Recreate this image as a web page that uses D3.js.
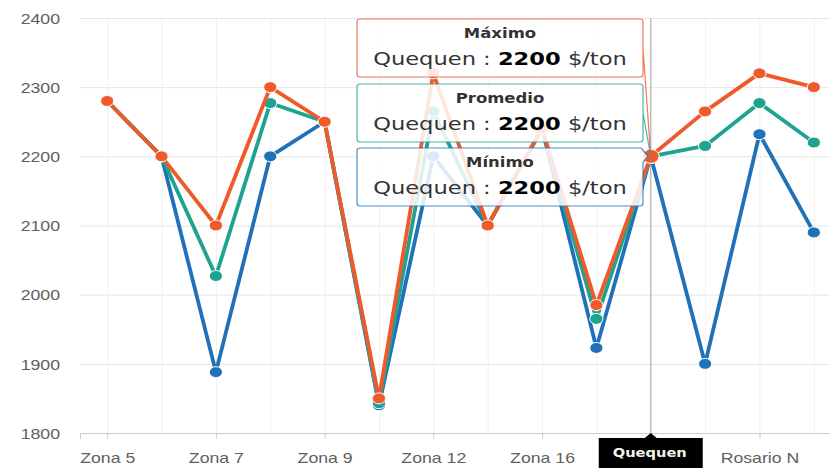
<!DOCTYPE html>
<html>
<head>
<meta charset="utf-8">
<script src="https://cdnjs.cloudflare.com/ajax/libs/d3/7.8.5/d3.min.js"></script>
<style>
	body { margin: 0; background: #fff; }
	svg { display: block; font-family: "DejaVu Sans", Verdana, sans-serif; }
</style>
</head>
<body>
<div id="chart"></div>
<script>
// Data
var categories = ["Zona 5", "Zona 6", "Zona 7", "Zona 8", "Zona 9", "Zona 10", "Zona 12",
		"Zona 14", "Zona 16", "Zona 17", "Quequen", "Bahía Blanca", "Rosario N", "Rosario S"];
var maximo   = [2280, 2200, 2100, 2300, 2250, 1850, 2320, 2100, 2240, 1985, 2200, 2265, 2320, 2300];
var promedio = [2280, 2200, 2027, 2277, 2250, 1843, 2265, 2100, 2240, 1965, 2200, 2215, 2277, 2220];
var minimo   = [2280, 2200, 1888, 2200, 2250, 1840, 2200, 2100, 2240, 1923, 2200, 1900, 2232, 2090];
var yTicks = [1800, 1900, 2000, 2100, 2200, 2300, 2400];
var shownLabels = ["Zona 5", "Zona 7", "Zona 9", "Zona 12", "Zona 16", "Quequen", "Rosario N"];
var hovered = "Quequen";
var unit = "$/ton";

var series = [
	{name: "Mínimo", values: minimo, color: "#1f72b8"},
	{name: "Promedio", values: promedio, color: "#1fa391"},
	{name: "Máximo", values: maximo, color: "#f0592a"}
];

var width = 830, height = 468,
		plot = {left: 80, right: 841, top: 18, bottom: 433},
		stretchK = 1.22; // the reference is drawn a bit wider than tall

var x = d3.scalePoint().domain(categories).range([plot.left, plot.right]).padding(0.5);
var y = d3.scaleLinear().domain([1800, 2400]).range([plot.bottom, plot.top]);

var svg = d3.select("#chart").append("svg")
		.attr("width", width)
		.attr("height", height);

// stretch text horizontally
function stretch(sel) {
	sel.each(function() {
		var w = this.getComputedTextLength();
		d3.select(this).attr("textLength", w * stretchK).attr("lengthAdjust", "spacingAndGlyphs");
	});
}

// Vertical grid
var vgrid = svg.append("g")
		.attr("transform", "translate(0," + plot.bottom + ")")
		.call(d3.axisBottom(x).tickSize(-(plot.bottom - plot.top)).tickFormat(""));
vgrid.select(".domain").remove();
vgrid.selectAll("line").attr("stroke", "#f0f0f0");

// Horizontal grid + y labels
var yAxis = svg.append("g")
		.attr("transform", "translate(" + plot.left + ",0)")
		.call(d3.axisLeft(y).tickValues(yTicks).tickSize(-(width - plot.left)).tickPadding(20).tickFormat(d3.format("d")));
yAxis.select(".domain").remove();
yAxis.selectAll("line").attr("stroke", "#e6e6e6");
yAxis.selectAll("text")
		.attr("fill", "#606060")
		.style("font-size", "14.5px")
		.attr("dy", "0.36em")
		.call(stretch);

// X axis (the hovered category shows its label in the black box instead)
var xAxis = svg.append("g")
		.attr("transform", "translate(0," + plot.bottom + ")")
		.call(d3.axisBottom(x).tickValues(shownLabels).tickSize(6));
xAxis.select(".domain").attr("stroke", "#ccc");
xAxis.selectAll("line").attr("stroke", "#ccc");
xAxis.selectAll("text")
		.attr("fill", "#606060")
		.attr("y", 30)
		.attr("dy", 0)
		.style("font-size", "14.5px")
		.call(stretch);
xAxis.selectAll(".tick").filter(function(d) { return d === hovered; }).select("text").remove();

// Crosshair
svg.append("line")
		.attr("x1", x(hovered)).attr("x2", x(hovered))
		.attr("y1", plot.top).attr("y2", plot.bottom)
		.attr("stroke", "#a8a8a8")
		.attr("stroke-width", 1);

// Series
var line = d3.line()
		.x(function(d, i) { return x(categories[i]); })
		.y(function(d) { return y(d); });

var layer = svg.selectAll(".layer")
		.data(series)
	.enter().append("g")
		.attr("class", "layer");

layer.append("path")
		.attr("d", function(d) { return line(d.values); })
		.attr("fill", "none")
		.attr("stroke", function(d) { return d.color; })
		.attr("stroke-width", 3.8)
		.attr("stroke-linejoin", "round");

layer.selectAll("ellipse")
		.data(function(d) { return d.values.map(function(v, i) { return {v: v, c: categories[i], color: d.color}; }); })
	.enter().append("ellipse")
		.attr("cx", function(d) { return x(d.c); })
		.attr("cy", function(d) { return y(d.v); })
		.attr("rx", function(d) { return d.c === hovered ? 8.4 : 6.6; })
		.attr("ry", function(d) { return d.c === hovered ? 7 : 5.5; })
		.attr("fill", function(d) { return d.color; })
		.attr("stroke", "#fff")
		.attr("stroke-width", 1);

// Tooltips
var hi = categories.indexOf(hovered);
var ax = x(hovered), ay = y(maximo[hi]);
var tipLeft = 357, tipRight = 643, tipH = 58;
var tips = [
	{s: series[2], top: 19},
	{s: series[1], top: 84},
	{s: series[0], top: 148}
];

function callout(top) {
	var l = tipLeft, r = tipRight, b = top + tipH, rr = 3;
	var p = "M" + (l + rr) + "," + top + "H" + (r - rr) + "Q" + r + "," + top + " " + r + "," + (top + rr);
	if (ay > top + 8 && ay < b - 8) {
		p += "V" + (ay - 6) + "L" + (ax - 3) + "," + ay + "L" + r + "," + (ay + 6);
	} else {
		p += "V" + (top + tipH / 2) + "L" + ax + "," + ay + "L" + r + "," + (top + tipH / 2);
	}
	p += "V" + (b - rr) + "Q" + r + "," + b + " " + (r - rr) + "," + b +
			"H" + (l + rr) + "Q" + l + "," + b + " " + l + "," + (b - rr) +
			"V" + (top + rr) + "Q" + l + "," + top + " " + (l + rr) + "," + top + "Z";
	return p;
}

var tip = svg.selectAll(".tip")
		.data(tips)
	.enter().append("g")
		.attr("class", "tip");

tip.append("path")
		.attr("d", function(d) { return callout(d.top); })
		.attr("fill", "rgba(255,255,255,0.85)")
		.attr("stroke", function(d) { return d.s.color; })
		.attr("stroke-opacity", 0.8)
		.attr("stroke-width", 1.2);

tip.append("text")
		.attr("x", (tipLeft + tipRight) / 2)
		.attr("y", function(d) { return d.top + 19; })
		.attr("text-anchor", "middle")
		.style("font-size", "13.5px")
		.style("font-weight", "bold")
		.attr("fill", "#333")
		.text(function(d) { return d.s.name; })
		.call(stretch);

var t2 = tip.append("text")
		.attr("x", (tipLeft + tipRight) / 2)
		.attr("y", function(d) { return d.top + 46; })
		.attr("text-anchor", "middle")
		.style("font-size", "18.5px")
		.attr("fill", "#333");
t2.append("tspan").text(hovered + " : ");
t2.append("tspan").style("font-weight", "bold").attr("fill", "#000")
		.text(function(d) { return d.s.values[hi]; });
t2.append("tspan").text(" " + unit);
t2.call(stretch);

// Category label on the axis
var lab = svg.append("g").attr("transform", "translate(" + ax + "," + plot.bottom + ")");
lab.append("path")
		.attr("d", "M-52,5H-6L0,0L6,5H52V40H-52Z")
		.attr("fill", "#000");
lab.append("text")
		.attr("x", -1)
		.attr("y", 24)
		.attr("text-anchor", "middle")
		.style("font-size", "12px")
		.style("font-weight", "bold")
		.attr("fill", "#f4f4e8")
		.text(hovered)
		.call(stretch);
</script>
</body>
</html>
